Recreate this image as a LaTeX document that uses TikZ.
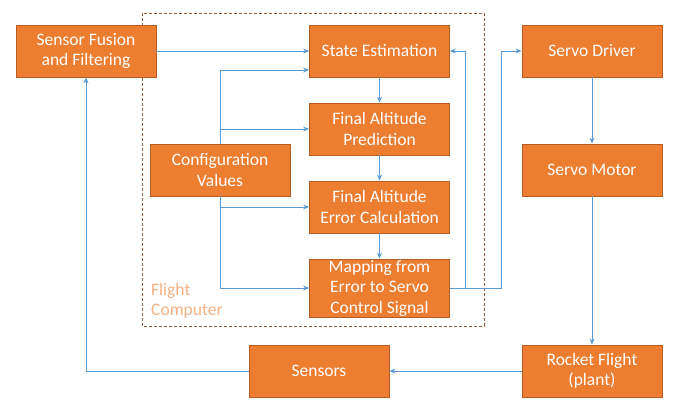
\documentclass[tikz,border=0pt]{standalone}
\usepackage{fontspec}
\setmainfont{Carlito}
\usetikzlibrary{arrows.meta}
\definecolor{boxfill}{HTML}{ED7D31}
\definecolor{boxline}{HTML}{B55D22}
\definecolor{arrowblue}{HTML}{5B9BD5}
\definecolor{dashbrown}{HTML}{9C5B3A}
\definecolor{peach}{HTML}{F4B183}
\tikzset{
  block/.style={draw=boxline, line width=0.8pt, fill=boxfill, text=white,
    minimum width=140pt, minimum height=52pt, inner sep=0pt, align=center,
    font=\fontsize{17.5}{20.5}\selectfont},
  link/.style={draw=arrowblue, line width=0.9pt},
  arr/.style={link, -{Stealth[length=6pt,width=5pt]}},
}
\begin{document}
\begin{tikzpicture}[x=1pt,y=-1pt]
\useasboundingbox (0,0) rectangle (681,412);
\draw[dashbrown, line width=0.8pt, dash pattern=on 3pt off 2pt] (142,13) rectangle (484,326);
\node[anchor=north west, text=peach, align=left, inner sep=0pt,
  font=\fontsize{17.5}{20.5}\selectfont] (fc) at (151,283) {Flight\\Computer};

\node[block] (sf) at (86,51) {Sensor Fusion\\and Filtering};
\node[block] (se) at (379.5,51) {State Estimation};
\node[block] (fap) at (379.5,129) {Final Altitude\\Prediction};
\node[block] (cv) at (220,170) {Configuration\\Values};
\node[block] (fec) at (379.5,207) {Final Altitude\\Error Calculation};
\node[block, minimum height=58pt] (map) at (379.5,288) {Mapping from\\Error to Servo\\Control Signal};
\node[block] (sd) at (592,51) {Servo Driver};
\node[block] (sm) at (592,170) {Servo Motor};
\node[block] (rf) at (592,371) {Rocket Flight\\(plant)};
\node[block] (sn) at (319,371) {Sensors};

\draw[arr] (sf.east) -- (se.west);
\draw[arr] (cv.north) |- ([yshift=-19pt]se.west);
\draw[arr] (cv.north) |- (fap.west);
\draw[arr] (cv.south) |- (fec.west);
\draw[arr] (cv.south) |- (map.west);
\draw[arr] (se.south) -- (fap.north);
\draw[arr] (fap.south) -- (fec.north);
\draw[arr] (fec.south) -- (map.north);
\draw[arr] (map.east) -- ++(16,0) |- (se.east);
\draw[arr] (map.east) -- ++(52,0) |- (sd.west);
\draw[arr] (sd.south) -- (sm.north);
\draw[arr] (sm.south) -- (rf.north);
\draw[arr] (rf.west) -- (sn.east);
\draw[arr] (sn.west) -| (sf.south);
\end{tikzpicture}
\end{document}
